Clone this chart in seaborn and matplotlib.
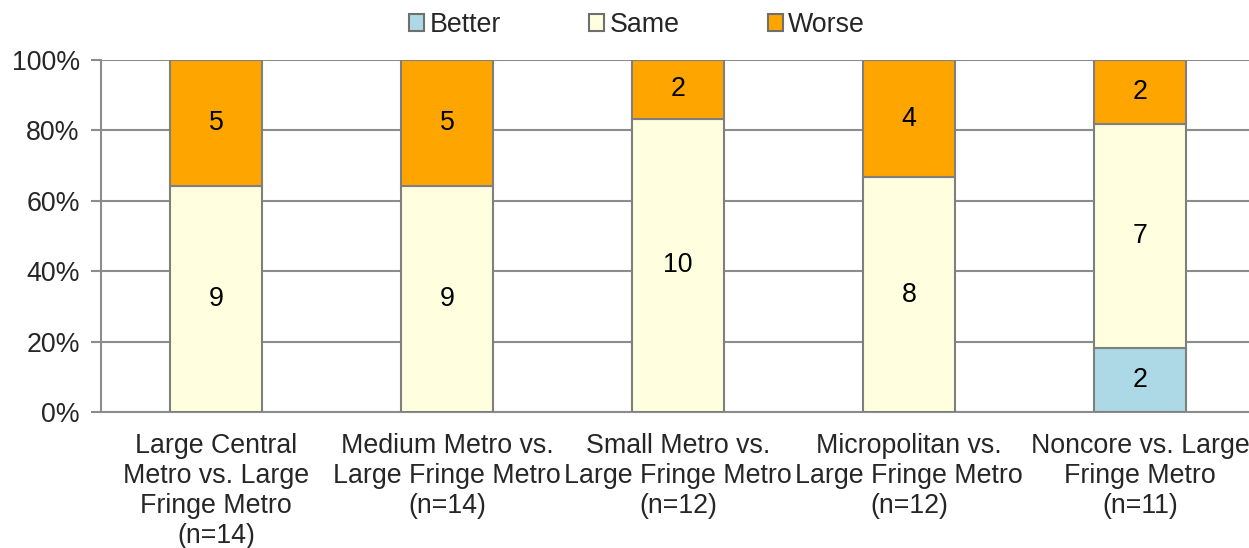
import matplotlib
matplotlib.use("Agg")
import matplotlib.pyplot as plt
import seaborn as sns
import numpy as np
import pandas as pd
from matplotlib.patches import Patch

categories = ["Large Central\nMetro vs. Large\nFringe Metro\n(n=14)",
              "Medium Metro vs.\nLarge Fringe Metro\n(n=14)",
              "Small Metro vs.\nLarge Fringe Metro\n(n=12)",
              "Micropolitan vs.\nLarge Fringe Metro\n(n=12)",
              "Noncore vs. Large\nFringe Metro\n(n=11)"]
better = [0, 0, 0, 0, 2]
same = [9, 9, 10, 8, 7]
worse = [5, 5, 2, 4, 2]
series_names = ["Better", "Same", "Worse"]
colors = ["#ADD8E6", "#FFFFE0", "#FFA500"]

sns.set_style("white")
plt.rcParams["font.family"] = ["Liberation Sans", "DejaVu Sans"]
FS = 19.3

fig = plt.figure(figsize=(12.49, 5.48), dpi=100)
ax = fig.add_axes([100.5 / 1249, 136 / 548, 1155 / 1249, 352 / 548])

counts = np.array([better, same, worse], dtype=float)
totals = counts.sum(axis=0)
pct = counts / totals * 100

bottom = np.zeros(len(categories))
for i, name in enumerate(series_names):
    df = pd.DataFrame({"cat": categories, "val": pct[i]})
    sns.barplot(data=df, x="cat", y="val", ax=ax, color=colors[i], width=0.4,
                bottom=bottom, edgecolor="#7f7f7f", linewidth=1.5, zorder=3,
                saturation=1)
    for j in range(len(categories)):
        if counts[i, j] > 0:
            ax.text(j, bottom[j] + pct[i, j] / 2, f"{int(counts[i, j])}",
                    ha="center", va="center", fontsize=FS, color="black", zorder=4)
    bottom = bottom + pct[i]

ax.set_xlim(-0.5, len(categories) - 0.5)
ax.set_ylim(0, 100)
ax.set_yticks(np.arange(0, 101, 20))
ax.set_yticklabels([f"{v}%" for v in range(0, 101, 20)], fontsize=FS)
ax.yaxis.grid(True, color="#8c8c8c", linewidth=1.5, zorder=0)
ax.set_axisbelow(True)
ax.set_xlabel("")
ax.set_ylabel("")
ax.set_xticks(range(len(categories)))
ax.set_xticklabels(categories, fontsize=FS, linespacing=1.2)
ax.set_xticks(np.arange(-0.5, len(categories), 1.0), minor=True)
ax.tick_params(axis="x", which="major", length=0, pad=15)
ax.tick_params(axis="x", which="minor", length=7, width=1.5, color="#8c8c8c")
ax.tick_params(axis="y", length=7, width=1.5, color="#8c8c8c", left=True, pad=8)
for s in ["top", "right"]:
    ax.spines[s].set_visible(False)
for s in ["left", "bottom"]:
    ax.spines[s].set_color("#8c8c8c")
    ax.spines[s].set_linewidth(1.5)

handles = [Patch(facecolor=c, edgecolor="#6f6f6f", linewidth=1.5) for c in colors]
fig.legend(handles, series_names, loc="center", bbox_to_anchor=(637 / 1249, 1 - 25 / 548),
           ncol=3, frameon=False, fontsize=FS, handlelength=0.55, handleheight=0.55,
           handletextpad=0.2, columnspacing=3.3)

fig.savefig("out.png", dpi=100)
